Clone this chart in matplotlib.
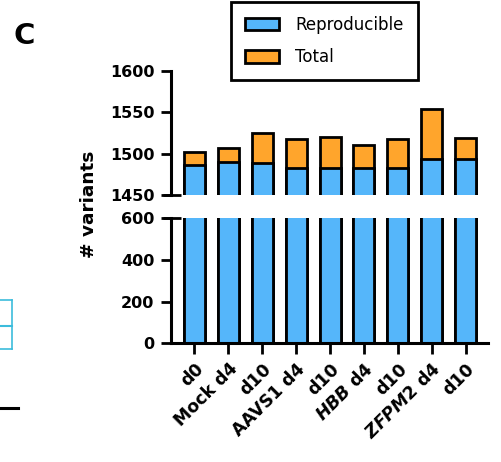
import numpy as np
import matplotlib
matplotlib.use("Agg")
import matplotlib.pyplot as plt
from matplotlib.patches import Patch
from matplotlib.lines import Line2D

# italic gene names inside otherwise bold tick labels
plt.rcParams['mathtext.fontset'] = 'custom'
plt.rcParams['mathtext.it'] = 'DejaVu Sans:italic:bold'
plt.rcParams['mathtext.rm'] = 'DejaVu Sans:bold'

samples = ["d0", "Mock d4", "d10", "AAVS1 d4", "d10", "$HBB$ d4", "d10", "$ZFPM2$ d4", "d10"]
reproducible = [1486, 1490, 1489, 1482, 1482, 1482, 1482, 1494, 1494]
total = [1502, 1507, 1525, 1518, 1520, 1510, 1517, 1554, 1519]

blue = '#55b6fa'
orange = '#ffa52c'
lw = 2.0

fig = plt.figure(figsize=(5.01, 4.62), dpi=100)
ax_top = fig.add_axes([0.3413, 0.578, 0.633, 0.269])
ax_bot = fig.add_axes([0.3413, 0.257, 0.633, 0.2705])

x = np.arange(len(samples))
for ax in (ax_top, ax_bot):
    ax.bar(x, total, width=0.62, color=orange, edgecolor='black', linewidth=lw)
    ax.bar(x, reproducible, width=0.62, color=blue, edgecolor='black', linewidth=lw)
    ax.set_xlim(-0.69, 8.66)
    for s in ('top', 'right'):
        ax.spines[s].set_visible(False)
    ax.spines['left'].set_linewidth(lw + 0.2)
    ax.spines['bottom'].set_linewidth(lw + 0.2)
    ax.tick_params(axis='y', length=7, width=lw, pad=5)

ax_top.set_ylim(1450, 1600)
ax_top.set_yticks([1450, 1500, 1550, 1600])
ax_top.set_yticklabels(['1450', '1500', '1550', '1600'], fontweight='bold', fontsize=11.5)
ax_top.spines['bottom'].set_visible(False)
ax_top.set_xticks([])

ax_bot.set_ylim(0, 600)
ax_bot.set_yticks([0, 200, 400, 600])
ax_bot.set_yticklabels(['0', '200', '400', '600'], fontweight='bold', fontsize=11.5)
ax_bot.set_xticks(x)
ax_bot.set_xticklabels(samples, rotation=45, ha='right', rotation_mode='anchor',
                       fontsize=12.5, fontweight='bold')
ax_bot.tick_params(axis='x', length=8, width=lw, pad=4)

# break markers crossing the left spine
for ax, yb in ((ax_top, 0.0), (ax_bot, 1.0)):
    ax.add_line(Line2D([-0.025, 0.03], [yb, yb], transform=ax.transAxes,
                       color='black', lw=lw, clip_on=False, solid_capstyle='butt'))

fig.text(89 / 501, 1 - 204 / 462, '# variants', rotation=90, ha='center', va='center',
         fontsize=13.3, fontweight='bold')
fig.text(24 / 501, 1 - 36 / 462, 'C', ha='center', va='center', fontsize=21, fontweight='bold')

handles = [Patch(facecolor=blue, edgecolor='black', linewidth=lw, label='Reproducible'),
           Patch(facecolor=orange, edgecolor='black', linewidth=lw, label='Total')]
leg = fig.legend(handles=handles, loc='upper left', bbox_to_anchor=(231 / 501, 1 - 1.7 / 462),
                 borderaxespad=0, fontsize=12, frameon=True, fancybox=False, framealpha=1,
                 borderpad=0.85, handlelength=2.0, handleheight=0.8, labelspacing=0.85,
                 handletextpad=1.0)
leg.get_frame().set_edgecolor('black')
leg.get_frame().set_linewidth(lw)

# edges of the neighbouring panel
cyan = '#3cbcdc'
fig.add_artist(Line2D([0, 11.7 / 501], [1 - 300 / 462, 1 - 300 / 462], color=cyan, lw=1.2))
fig.add_artist(Line2D([0, 11.7 / 501], [1 - 325.7 / 462, 1 - 325.7 / 462], color=cyan, lw=1.5))
fig.add_artist(Line2D([0, 11.7 / 501], [1 - 349 / 462, 1 - 349 / 462], color=cyan, lw=1.2))
fig.add_artist(Line2D([11.7 / 501, 11.7 / 501], [1 - 300 / 462, 1 - 349 / 462], color=cyan, lw=1.2))
fig.add_artist(Line2D([0, 18 / 501], [1 - 408 / 462, 1 - 408 / 462], color='black', lw=2.2))

fig.savefig('out.png', dpi=100)
